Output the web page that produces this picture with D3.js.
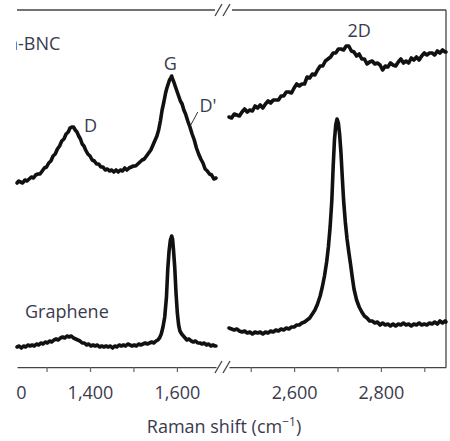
<!DOCTYPE html>
<html>
<head>
<meta charset="utf-8">
<script src="https://cdn.jsdelivr.net/npm/d3@7"></script>
<style>
	body { margin: 0; background: #fff; }
	svg { display: block; }
	text { font-family: "Open Sans", sans-serif; fill: #3a3a4e; }
</style>
</head>
<body>
<div id="chart"></div>
<script>
// Raman spectra, two windows of the shift axis (cm-1), intensities in a.u. (stacked)
const lowTicks = [1200, 1300, 1400, 1500, 1600];
const lowLabels = [1200, 1400, 1600];
const highTicks = [2500, 2600, 2700, 2800, 2900];
const highLabels = [2600, 2800];

const bncLow = [[1232,184],[1236,186],[1240,185],[1245,184],[1250,187],[1255,186],[1260,188],[1265,190],[1270,189],[1275,192],[1280,193],[1285,193],[1290,196],[1295,199],[1300,200],[1305,204],[1310,206],[1315,211],[1320,213],[1325,218],[1330,221],[1335,226],[1340,228],[1345,233],[1350,235],[1354,239],[1358,240],[1362,240],[1366,237],[1370,235],[1374,231],[1378,228],[1382,223],[1386,221],[1390,217],[1395,213],[1400,211],[1405,207],[1410,206],[1415,203],[1420,203],[1425,200],[1430,200],[1435,197],[1440,198],[1445,196],[1450,197],[1455,195],[1460,197],[1465,195],[1470,197],[1475,196],[1480,199],[1485,197],[1490,199],[1495,200],[1500,201],[1505,201],[1510,203],[1515,205],[1520,207],[1525,208],[1530,211],[1535,214],[1540,217],[1545,222],[1550,227],[1554,231],[1558,237],[1562,246],[1566,257],[1570,265],[1574,274],[1577,279],[1580,283],[1583,287],[1586,289],[1588,291],[1590,288],[1593,285],[1596,281],[1600,276],[1604,271],[1608,266],[1612,263],[1616,257],[1620,253],[1625,246],[1630,240],[1635,233],[1640,227],[1645,219],[1650,213],[1655,208],[1660,204],[1665,198],[1670,196],[1675,193],[1680,192],[1685,188],[1690,189]];

const grapheneLow = [[1232,20],[1237,21],[1242,19],[1247,21],[1252,20],[1257,22],[1262,21],[1267,22],[1272,21],[1277,23],[1282,22],[1287,24],[1292,23],[1297,25],[1302,24],[1307,26],[1312,25],[1317,27],[1322,28],[1327,27],[1332,29],[1337,30],[1342,29],[1347,31],[1352,30],[1357,31],[1362,29],[1367,28],[1372,27],[1377,26],[1382,24],[1387,24],[1392,22],[1397,23],[1402,21],[1407,22],[1412,21],[1417,22],[1422,20],[1427,21],[1432,20],[1437,21],[1442,20],[1447,21],[1452,19],[1457,21],[1462,20],[1467,22],[1472,21],[1477,22],[1482,21],[1487,23],[1492,22],[1497,21],[1502,22],[1507,21],[1512,23],[1517,22],[1522,23],[1527,24],[1532,23],[1537,24],[1542,25],[1547,24],[1552,26],[1556,27],[1560,29],[1564,33],[1568,40],[1572,50],[1576,70],[1579,98],[1582,116],[1585,127],[1588,131],[1590,128],[1592,118],[1595,100],[1598,74],[1601,54],[1604,42],[1607,36],[1611,33],[1615,31],[1619,29],[1623,27],[1628,28],[1633,26],[1638,25],[1643,26],[1648,24],[1653,24],[1658,23],[1663,24],[1668,22],[1673,23],[1678,21],[1683,22],[1688,21],[1690,21]];

const bncHigh = [[2450,250],[2456,249],[2462,253],[2468,252],[2474,251],[2480,255],[2486,258],[2492,255],[2498,257],[2504,256],[2510,261],[2516,259],[2522,262],[2528,259],[2534,263],[2540,266],[2546,264],[2552,267],[2558,267],[2564,267],[2570,271],[2576,271],[2582,275],[2588,275],[2594,274],[2600,279],[2606,283],[2612,281],[2618,283],[2624,283],[2630,290],[2636,289],[2642,293],[2648,292],[2654,297],[2660,301],[2666,301],[2672,306],[2678,308],[2684,310],[2690,314],[2696,314],[2702,318],[2708,318],[2714,317],[2720,321],[2726,321],[2732,316],[2738,315],[2744,311],[2750,313],[2756,308],[2762,308],[2768,303],[2774,305],[2780,306],[2786,303],[2792,304],[2798,302],[2804,297],[2810,301],[2816,300],[2822,304],[2828,302],[2834,301],[2840,305],[2846,308],[2852,304],[2858,306],[2864,304],[2870,309],[2876,307],[2882,310],[2888,307],[2894,311],[2900,314],[2906,312],[2912,314],[2918,314],[2924,312],[2930,316],[2936,314],[2942,317],[2948,315],[2950,315]];

const grapheneHigh = [[2450,39],[2456,38],[2462,37],[2468,38],[2474,36],[2480,35],[2486,36],[2492,34],[2498,35],[2504,33],[2510,35],[2516,34],[2522,35],[2528,33],[2534,35],[2540,34],[2546,36],[2552,35],[2558,37],[2564,36],[2570,38],[2576,37],[2582,39],[2588,38],[2594,40],[2600,40],[2606,42],[2612,42],[2618,44],[2624,45],[2630,47],[2636,49],[2642,53],[2648,57],[2654,63],[2660,71],[2665,80],[2670,91],[2675,105],[2679,120],[2683,140],[2687,167],[2690,200],[2693,227],[2696,242],[2699,248],[2702,244],[2705,232],[2708,214],[2711,190],[2714,167],[2718,145],[2722,128],[2726,115],[2730,103],[2734,90],[2738,78],[2744,67],[2750,60],[2756,55],[2762,51],[2768,49],[2774,46],[2780,46],[2786,44],[2792,45],[2798,42],[2804,44],[2810,42],[2816,43],[2822,41],[2828,43],[2834,41],[2840,43],[2846,42],[2852,44],[2858,42],[2864,43],[2870,41],[2876,43],[2882,42],[2888,44],[2894,42],[2900,43],[2906,42],[2912,44],[2918,43],[2924,45],[2930,43],[2936,46],[2942,44],[2948,46],[2950,45]];

const peakLabels = [
	{ text: 'D', shift: 1386, value: 235, anchor: 'start' },
	{ text: 'G', shift: 1585, value: 297, anchor: 'middle' },
	{ text: "D'", shift: 1652, value: 255, anchor: 'start' },
	{ text: '2D', shift: 2750, value: 330, anchor: 'middle' }
];

const W = 450, H = 441;
const plotTop = 10, plotBottom = 367, plotRight = 446;

const svg = d3.select('#chart').append('svg')
	.attr('width', W)
	.attr('height', H);

// the figure is cut off on the left
svg.append('clipPath').attr('id', 'crop')
	.append('rect').attr('x', 16).attr('y', 0).attr('width', W).attr('height', H);

const xLow = d3.scaleLinear().domain([1232, 1690]).range([17, 216]);
const xHigh = d3.scaleLinear().domain([2450, 2950]).range([229, plotRight]);
const y = d3.scaleLinear().domain([0, 357]).range([plotBottom, plotTop]);

function drawAxis(scale, ticks, labels) {
	const axis = d3.axisBottom(scale)
		.tickValues(ticks)
		.tickSize(5)
		.tickSizeOuter(0)
		.tickPadding(14)
		.tickFormat(d => labels.includes(d) ? d3.format(',')(d) : '');

	const g = svg.append('g')
		.attr('transform', `translate(0,${plotBottom})`)
		.attr('clip-path', 'url(#crop)')
		.call(axis);

	g.select('.domain').attr('stroke', '#444').attr('stroke-width', 1.3);
	g.selectAll('.tick line').attr('stroke', '#666').attr('stroke-width', 1.2);
	g.selectAll('.tick text')
		.attr('fill', '#3a3a4e')
		.style('font-family', '"Open Sans", sans-serif')
		.style('font-size', '18px');
}

drawAxis(xLow, lowTicks, lowLabels);
drawAxis(xHigh, highTicks, highLabels);

/* frame: top line (broken) and right side */
svg.append('line').attr('x1', 17).attr('x2', 215).attr('y1', plotTop).attr('y2', plotTop)
	.attr('stroke', '#444').attr('stroke-width', 1.3);
svg.append('line').attr('x1', 232).attr('x2', plotRight).attr('y1', plotTop).attr('y2', plotTop)
	.attr('stroke', '#444').attr('stroke-width', 1.3);
svg.append('line').attr('x1', plotRight).attr('x2', plotRight).attr('y1', plotTop).attr('y2', plotBottom)
	.attr('stroke', '#444').attr('stroke-width', 1.3);

function breakMarks(cy) {
	[0, 8].forEach(dx => {
		svg.append('line')
			.attr('x1', 215 + dx).attr('y1', cy + 6)
			.attr('x2', 222 + dx).attr('y2', cy - 6)
			.attr('stroke', '#444').attr('stroke-width', 1.3);
	});
}
breakMarks(plotTop);
breakMarks(plotBottom);

/* spectra */
function drawSpectrum(data, xs) {
	const line = d3.line()
		.x(d => xs(d[0]))
		.y(d => y(d[1]));

	svg.append('path')
		.datum(data)
		.attr('d', line)
		.attr('fill', 'none')
		.attr('stroke', '#111')
		.attr('stroke-width', 3.6)
		.attr('stroke-linejoin', 'round')
		.attr('stroke-linecap', 'round');
}

drawSpectrum(bncLow, xLow);
drawSpectrum(grapheneLow, xLow);
drawSpectrum(bncHigh, xHigh);
drawSpectrum(grapheneHigh, xHigh);

/* labels */
peakLabels.forEach(p => {
	const xs = p.shift < 2000 ? xLow : xHigh;
	svg.append('text')
		.attr('x', xs(p.shift))
		.attr('y', y(p.value))
		.attr('text-anchor', p.anchor)
		.style('font-size', '18px')
		.text(p.text);
});

// little pointer for D'
svg.append('line')
	.attr('x1', xLow(1632)).attr('y1', y(242))
	.attr('x2', xLow(1648)).attr('y2', y(255))
	.attr('stroke', '#333').attr('stroke-width', 1);

svg.append('text')
	.attr('x', 7).attr('y', 50)
	.attr('clip-path', 'url(#crop)')
	.style('font-size', '18px')
	.text('h-BNC');

svg.append('text')
	.attr('x', 25).attr('y', 318)
	.style('font-size', '18px')
	.text('Graphene');

const title = svg.append('text')
	.attr('x', 224).attr('y', 433)
	.attr('text-anchor', 'middle')
	.style('font-size', '18px');
title.append('tspan').text('Raman shift (cm');
title.append('tspan').attr('dy', -7).style('font-size', '12px').text('\u22121');
title.append('tspan').attr('dy', 7).text(')');
</script>
</body>
</html>
